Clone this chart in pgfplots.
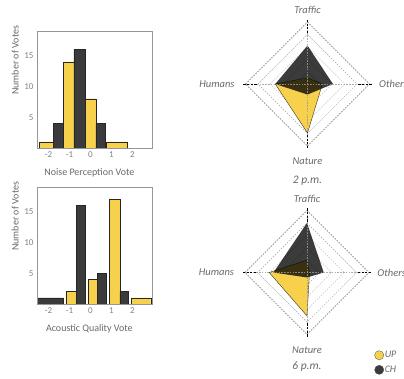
\documentclass[border=0pt]{standalone}
\usepackage{pgfplots}
\pgfplotsset{compat=1.18}
\usepackage{fontspec}
\setmainfont{Carlito}
\definecolor{ylw}{RGB}{247,209,76}
\definecolor{drk}{RGB}{59,59,59}
\definecolor{txt}{RGB}{105,105,105}
\definecolor{tck}{RGB}{130,130,130}
\definecolor{frm}{RGB}{150,150,150}
\tikzset{rl/.style={font=\fontsize{10.5}{12}\selectfont\itshape, text=txt}}
\pgfplotsset{
 histo/.style={
  scale only axis, width=115pt, height=117pt,
  xmin=-2.55, xmax=2.93, ymin=0, ymax=19,
  xtick={-2,-1,0,1,2}, xticklabels={-2,-1,0,1,2},
  ytick={5,10,15},
  major tick length=0pt,
  axis line style={draw=frm, line width=0.6pt},
  tick label style={font=\fontsize{9}{10}\selectfont, text=tck},
  label style={font=\fontsize{10}{12}\selectfont, text=txt},
  /pgf/number format/assume math mode=true,
  axis on top,
  ylabel style={at={(axis description cs:-0.19,0.75)}, anchor=center},
  xlabel style={at={(axis description cs:0.455,-0.211)}, anchor=center},
 },
 radar/.style={
  scale only axis, width=130.2pt, height=130.2pt,
  xmin=-1.05, xmax=1.05, ymin=-1.05, ymax=1.05,
  hide axis, clip=false, anchor=origin,
 },
 ring/.style={forget plot, line width=0.5pt, dash pattern=on 1.6pt off 1.2pt},
 bar/.style={ybar interval, line width=0.4pt, draw=black!85},
}
\newcommand{\radargrid}{%
  \addplot[ring, black!30] coordinates {(0,0.2)(0.2,0)(0,-0.2)(-0.2,0)(0,0.2)};
  \addplot[ring, black!22] coordinates {(0,0.4)(0.4,0)(0,-0.4)(-0.4,0)(0,0.4)};
  \addplot[ring, black!22] coordinates {(0,0.6)(0.6,0)(0,-0.6)(-0.6,0)(0,0.6)};
  \addplot[ring, black!35] coordinates {(0,0.8)(0.8,0)(0,-0.8)(-0.8,0)(0,0.8)};
  \addplot[ring, black!60] coordinates {(0,1)(1,0)(0,-1)(-1,0)(0,1)};
}
\newcommand{\radarspokes}{%
  \addplot[ring, black!40, opacity=0.8] coordinates {(-1,0)(1,0)};
  \addplot[ring, black!40, opacity=0.8] coordinates {(0,-1)(0,1)};
  \addplot[forget plot, black, line width=0.7pt, dash pattern=on 2.2pt off 1.5pt] coordinates {(0,0.82)(0,1.04)};
  \addplot[forget plot, black, line width=0.7pt, dash pattern=on 2.2pt off 1.5pt] coordinates {(0,-0.82)(0,-1.04)};
  \addplot[forget plot, black, line width=0.7pt, dash pattern=on 2.2pt off 1.5pt] coordinates {(0.82,0)(1.04,0)};
  \addplot[forget plot, black, line width=0.7pt, dash pattern=on 2.2pt off 1.5pt] coordinates {(-0.82,0)(-1.04,0)};
}
\begin{document}
\begin{tikzpicture}[x=1pt,y=1pt]
\useasboundingbox (0,0) rectangle (404,-378);

% ---------- top histogram ----------
\begin{axis}[histo, at={(37pt,-148pt)}, anchor=south west,
  xlabel={Noise Perception Vote}, ylabel={Number of Votes}]
\addplot[bar, fill=ylw] coordinates {(-2.44,1)(-1.77,0)(-1.30,14)(-0.79,0)(-0.26,8)(0.25,0)(0.77,1)(1.75,0)};
\addplot[bar, fill=drk] coordinates {(-1.77,4)(-1.30,0)(-0.79,16)(-0.26,0)(0.25,4)(0.72,0)};
\end{axis}

% ---------- bottom histogram ----------
\begin{axis}[histo, at={(37pt,-304pt)}, anchor=south west,
  xlabel={Acoustic Quality Vote}, ylabel={Number of Votes}]
\addplot[bar, fill=ylw] coordinates {(-1.17,2)(-0.66,0)(-0.13,4)(0.34,0)(0.90,17)(1.40,0)(1.93,1)(2.87,0)};
\addplot[bar, fill=drk] coordinates {(-2.53,1)(-1.30,0)(-0.66,16)(-0.26,0)(0.34,5)(0.77,0)(1.40,2)(1.80,0)};
\end{axis}

% ---------- top radar (2 p.m.) ----------
\begin{axis}[radar, at={(307.5pt,-84pt)}]
\radargrid
% UP
\addplot[forget plot, fill=ylw, draw=black!80, line width=0.4pt] coordinates {(0,0.10)(0.24,0)(0,-0.79)(-0.52,0)(0,0.10)};
% CH
\addplot[forget plot, fill=black, fill opacity=0.77, draw=none] coordinates {(0,0.62)(0.41,0)(0,-0.17)(-0.52,0)(0,0.62)};
\radarspokes
\node[rl, anchor=center] at (axis cs:0,1.19) {Traffic};
\node[rl, anchor=east] at (axis cs:-1.12,0) {Humans};
\node[rl, anchor=west] at (axis cs:1.10,0) {Others};
\node[rl, anchor=center] at (axis cs:0,-1.24) {Nature};
\node[rl, anchor=center, font=\fontsize{11.5}{13}\selectfont\itshape] at (axis cs:0,-1.56) {2 p.m.};
\end{axis}

% ---------- bottom radar (6 p.m.) ----------
\begin{axis}[radar, at={(307pt,-272.5pt)},
  legend style={at={(axis cs:1.085,-1.255)}, anchor=north west, draw=none, fill=none,
    inner sep=0pt, row sep=5pt, font=\fontsize{10}{11}\selectfont\itshape, text=txt,
    nodes={inner sep=0.8pt}},
  legend cell align=left]
\radargrid
% UP
\addplot[forget plot, fill=ylw, draw=black!80, line width=0.4pt] coordinates {(0,0.20)(0.04,0)(0,-0.70)(-0.61,0)(0,0.20)};
% CH
\addplot[forget plot, fill=black, fill opacity=0.77, draw=none] coordinates {(0,0.80)(0.27,0)(0,-0.08)(-0.54,0)(0,0.80)};
\radarspokes
\node[rl, anchor=center] at (axis cs:0,1.18) {Traffic};
\node[rl, anchor=east] at (axis cs:-1.12,0) {Humans};
\node[rl, anchor=west] at (axis cs:1.08,0) {Others};
\node[rl, anchor=center] at (axis cs:0,-1.25) {Nature};
\node[rl, anchor=center, font=\fontsize{11.5}{13}\selectfont\itshape] at (axis cs:0,-1.52) {6 p.m.};
\addlegendimage{legend image code/.code={\filldraw[fill=ylw, draw=black!70, line width=0.3pt] (4.6pt,0pt) circle (4.6pt);}}
\addlegendentry{UP}
\addlegendimage{legend image code/.code={\filldraw[fill=drk, draw=black!70, line width=0.3pt] (4.6pt,0pt) circle (4.6pt);}}
\addlegendentry{CH}
\end{axis}
\end{tikzpicture}
\end{document}
